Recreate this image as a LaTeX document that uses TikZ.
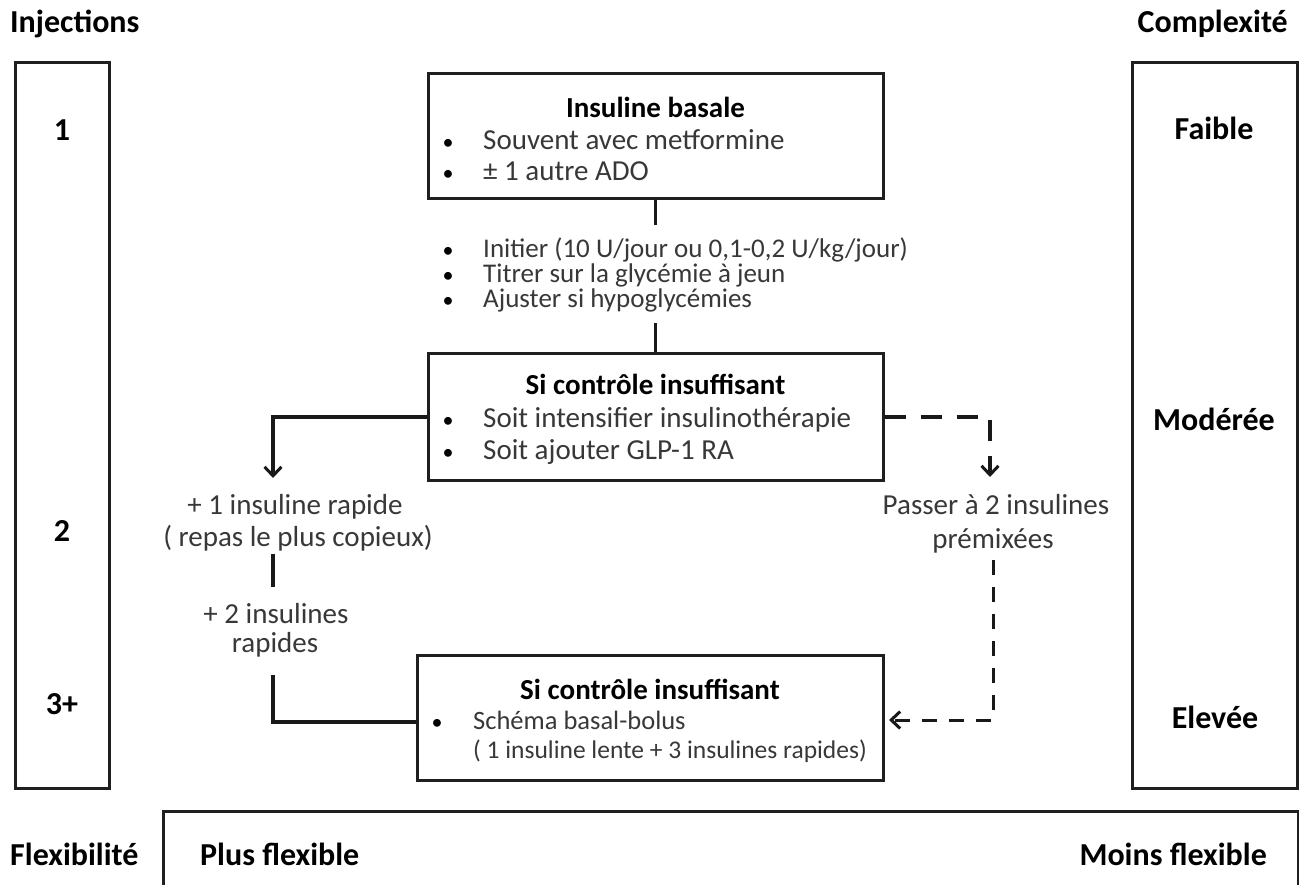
\documentclass[tikz,border=0pt]{standalone}
\usepackage{fontspec}
\setmainfont{Carlito}
\usetikzlibrary{arrows.meta}
\definecolor{txtgray}{HTML}{383838}
\begin{document}
\begin{tikzpicture}[x=1pt,y=-1pt,
  frame/.style={draw=black!88, line width=3pt, inner sep=0pt},
  body/.style={inner sep=0pt, text=txtgray, font=\fontsize{29}{29}\selectfont},
  small/.style={inner sep=0pt, text=txtgray, font=\fontsize{27}{27}\selectfont},
  head/.style={inner sep=0pt, text=black, font=\fontsize{29}{29}\selectfont\bfseries},
  big/.style={inner sep=0pt, text=black, font=\fontsize{32}{32}\selectfont\bfseries},
  bul/.style={inner sep=0pt, text=black, font=\fontsize{22}{22}\selectfont},
  conn/.style={line width=3.5pt, draw=black!90},
  dconn/.style={line width=3.5pt, draw=black!90, dash pattern=on 21pt off 15pt},
  dconnb/.style={line width=3pt, draw=black!90, dash pattern=on 15pt off 12pt},
  tip/.style={-{Straight Barb[length=9pt,width=17pt,line width=3pt]}},
]
\useasboundingbox (0,0) rectangle (1299,885);
\fill[white] (0,0) rectangle (1299,885);

% side frames
\node[frame, minimum width=94pt, minimum height=725pt] (inj) at (62,425.5) {};
\node[frame, minimum width=165pt, minimum height=725pt] (cmp) at (1214.5,425.5) {};
\node[frame, minimum width=1135pt, minimum height=120pt, anchor=north west] (flex) at (162,810) {};

% headers
\node[big, anchor=base west] (hinj) at (10,33) {Injections};
\node[big, anchor=base east] (hcmp) at (1288,33) {Complexité};
\node[big, anchor=base west] (hflex) at (10,865) {Flexibilité};
\node[big, anchor=base west] (pflex) at (200,865) {Plus flexible};
\node[big, anchor=base east] (mflex) at (1267,865) {Moins flexible};

% injection counts
\node[big, anchor=base] (n1) at (62,141) {1};
\node[big, anchor=base] (n2) at (62,541) {2};
\node[big, anchor=base] (n3) at (62,714) {3+};

% complexity
\node[big, anchor=base] (c1) at (1214,140) {Faible};
\node[big, anchor=base] (c2) at (1214,430) {Modérée};
\node[big, anchor=base] (c3) at (1215,728) {Elevée};

% central boxes
\node[frame, minimum width=455pt, minimum height=125pt] (top) at (655.5,136.5) {};
\node[frame, minimum width=455pt, minimum height=126pt] (mid) at (655.5,417) {};
\node[frame, minimum width=466pt, minimum height=125pt] (bot) at (650,717.5) {};

% top box text
\node[head, anchor=base] (topt) at (655.5,118) {Insuline basale};
\node[bul, anchor=base] (tb1) at (448,150) {•};
\node[body, anchor=base west] (tl1) at (483,150) {Souvent avec metformine};
\node[bul, anchor=base] (tb2) at (448,181) {•};
\node[body, anchor=base west] (tl2) at (483,181) {± 1 autre ADO};

% titration text
\node[bul, anchor=base] (ib1) at (448,258) {•};
\node[small, anchor=base west] (il1) at (483,258) {Initier (10 U/jour ou 0,1-0,2 U/kg/jour)};
\node[bul, anchor=base] (ib2) at (448,283) {•};
\node[small, anchor=base west] (il2) at (483,283) {Titrer sur la glycémie à jeun};
\node[bul, anchor=base] (ib3) at (448,308) {•};
\node[small, anchor=base west] (il3) at (483,308) {Ajuster si hypoglycémies};

% middle box text
\node[head, anchor=base] (midt) at (655.5,394) {Si contrôle insuffisant};
\node[bul, anchor=base] (mb1) at (448,428) {•};
\node[body, anchor=base west] (ml1) at (483,428) {Soit intensifier insulinothérapie};
\node[bul, anchor=base] (mb2) at (448,459) {•};
\node[body, anchor=base west] (ml2) at (483,459) {Soit ajouter GLP-1 RA};

% bottom box text
\node[head, anchor=base] (bott) at (650,699) {Si contrôle insuffisant};
\node[bul, anchor=base] (bb1) at (437,729) {•};
\node[body, anchor=base west, font=\fontsize{26.5}{26.5}\selectfont] (bl1) at (473,729) {Schéma basal-bolus};
\node[body, anchor=base west, font=\fontsize{25.5}{25.5}\selectfont] (bl2) at (473,758) {( 1 insuline lente + 3 insulines rapides)};

% left branch text
\node[body, anchor=base] (r1a) at (295,514) {+ 1 insuline rapide};
\node[body, anchor=base] (r1b) at (298,546) {( repas le plus copieux)};
\node[body, anchor=base] (r2a) at (276,623) {+ 2 insulines};
\node[body, anchor=base] (r2b) at (275,652) {rapides};

% right branch text
\node[body, anchor=base] (p1) at (996,514) {Passer à 2 insulines};
\node[body, anchor=base] (p2) at (993,548) {prémixées};

% coordinates for connectors
\coordinate (a1) at (655.5,225);
\coordinate (a2) at (655.5,323);
\coordinate (lb) at (273,417);
\coordinate (la) at (273,478);
\coordinate (l2a) at (273,554);
\coordinate (l2b) at (273,587);
\coordinate (l3a) at (273,675);
\coordinate (l3b) at (273,722);
\coordinate (rb) at (990,417);
\coordinate (ra) at (990,477);
\coordinate (r3a) at (993,560);
\coordinate (r3b) at (993,720);
\coordinate (r3c) at (889,720);

% connectors
\draw[conn] (top.south) -- (a1);
\draw[conn] (a2) -- (mid.north);
\draw[conn, tip] (mid.west) -- (lb) -- (la);
\draw[conn] (l2a) -- (l2b);
\draw[conn] (l3a) -- (l3b) -- (bot.west |- l3b);
\draw[dconn, tip] (mid.east) -- (rb) -- (ra);
\draw[dconnb, tip] (r3a) -- (r3b) -- (r3c);
\end{tikzpicture}
\end{document}
